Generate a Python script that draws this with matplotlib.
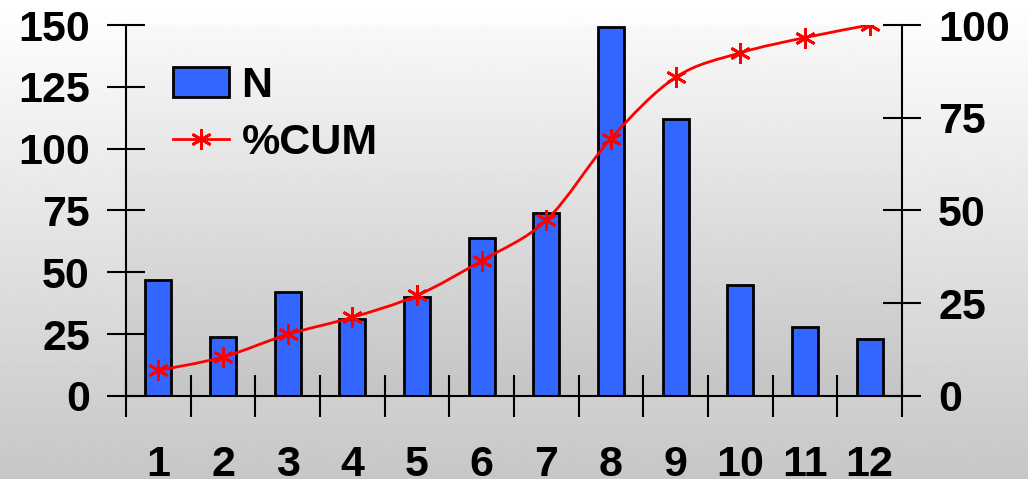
import numpy as np
import matplotlib
matplotlib.use("Agg")
import matplotlib.pyplot as plt
from matplotlib.path import Path
from matplotlib.patches import PathPatch
from matplotlib.lines import Line2D

categories = ["1", "2", "3", "4", "5", "6", "7", "8", "9", "10", "11", "12"]
n_values = [47, 24, 42, 31, 40, 64, 74, 149, 112, 45, 28, 23]
cum_pct = [6.9, 10.5, 16.6, 21.2, 27.1, 36.5, 47.4, 69.4, 85.9, 92.5, 96.6, 100]
left_ticks = [0, 25, 50, 75, 100, 125, 150]
right_ticks = [0, 25, 50, 75, 100]

plt.rcParams['font.family'] = ['Liberation Sans', 'DejaVu Sans']
plt.rcParams['font.weight'] = 'bold'
fs = 31

fig = plt.figure(figsize=(10.28, 4.79), dpi=100)

# figure background gradient
bg = fig.add_axes([0, 0, 1, 1], zorder=-10)
grad = np.linspace(1.0, 0.78, 256).reshape(-1, 1)
bg.imshow(grad, aspect='auto', cmap='gray', vmin=0, vmax=1, extent=[0, 1, 0, 1])
bg.axis('off')

ax1 = fig.add_axes([0.1226, 0.1733, 0.7548, 0.7745], zorder=1)
ax1.patch.set_visible(False)
pa = fig.add_axes([0.1226, 0.1733, 0.7548, 0.7745], zorder=-5)
grad2 = np.linspace(0.975, 0.77, 256).reshape(-1, 1)
pa.imshow(grad2, aspect='auto', cmap='gray', vmin=0, vmax=1, extent=[0, 1, 0, 1])
pa.axis('off')

x = np.arange(1, len(categories) + 1)
bars = ax1.bar(x, n_values, width=0.4, color='#3366FF', edgecolor='black', linewidth=2, zorder=2)
ax1.set_xlim(0.5, len(categories) + 0.5)
ax1.set_ylim(0, 150)
ax1.set_yticks(left_ticks)
ax1.set_xticks(np.arange(0.5, len(categories) + 1, 1))
ax1.set_xticklabels([])
ax1.set_xticks(x, minor=True)
ax1.set_xticklabels(categories, minor=True)
ax1.tick_params(axis='x', which='major', direction='inout', length=30, width=1.5)
ax1.tick_params(axis='x', which='minor', length=0, pad=35, labelsize=fs)
ax1.tick_params(axis='y', direction='inout', length=28, width=1.5, pad=12, labelsize=fs)
for s in ['top', 'right']:
    ax1.spines[s].set_visible(False)
for s in ['left', 'bottom']:
    ax1.spines[s].set_linewidth(1.5)

ax2 = ax1.twinx()
ax2.set_ylim(0, 100)
ax2.set_yticks(right_ticks)
ax2.tick_params(axis='y', direction='inout', length=28, width=1.5, pad=12, labelsize=fs)
ax2.spines['right'].set_linewidth(1.5)
for s in ['top', 'left', 'bottom']:
    ax2.spines[s].set_visible(False)

# smoothed line through the points (cardinal spline drawn as bezier)
pts = np.column_stack([x, cum_pct]).astype(float)
verts = [pts[0]]
codes = [Path.MOVETO]
t = 1 / 6
for i in range(len(pts) - 1):
    p0 = pts[i - 1] if i > 0 else pts[i]
    p1 = pts[i]
    p2 = pts[i + 1]
    p3 = pts[i + 2] if i + 2 < len(pts) else pts[i + 1]
    c1 = p1 + (p2 - p0) * t
    c2 = p2 - (p3 - p1) * t
    verts += [c1, c2, p2]
    codes += [Path.CURVE4] * 3
ax2.add_patch(PathPatch(Path(verts, codes), facecolor='none', edgecolor='red', lw=2, zorder=3))
ax2.plot(x, cum_pct, linestyle='none', marker=(6, 2, 0), markersize=15,
         markeredgecolor='red', markeredgewidth=2, zorder=4)

handles = [bars, Line2D([], [], color='red', lw=2, marker=(6, 2, 0), markersize=15,
                        markeredgecolor='red', markeredgewidth=2)]
ax2.legend(handles, ['N', '%CUM'], loc='upper left', bbox_to_anchor=(0.06, 0.89),
           frameon=False, fontsize=fs, borderpad=0, borderaxespad=0,
           handlelength=1.3, handletextpad=0.3, labelspacing=0.4)

fig.savefig('out.png', dpi=100)
